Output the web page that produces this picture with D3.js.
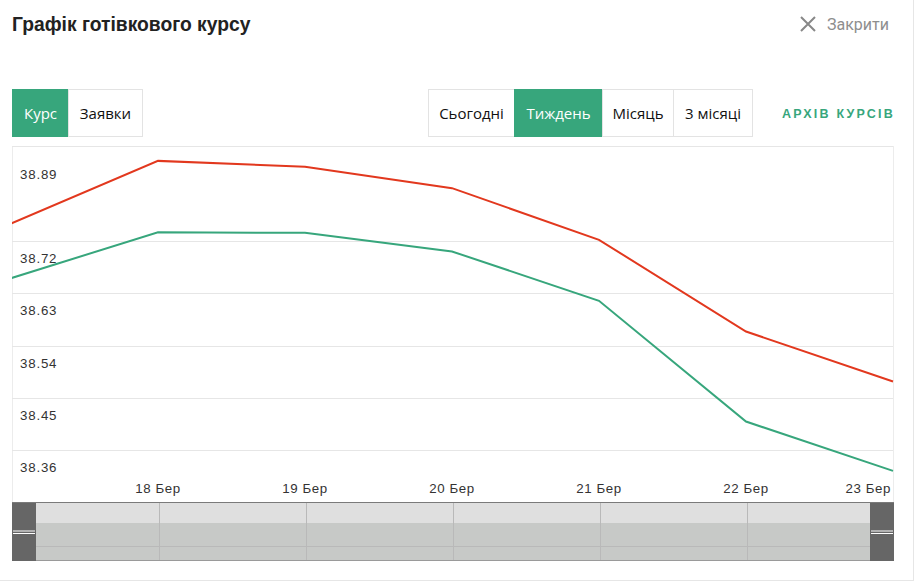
<!DOCTYPE html>
<html>
<head>
<meta charset="utf-8">
<script src="https://cdn.jsdelivr.net/npm/d3@7/dist/d3.min.js"></script>
<style>
  html, body { margin: 0; padding: 0; background: #fff; }
  svg { display: block; }
</style>
</head>
<body>
<svg id="chart" width="917" height="582"></svg>
<script>
// ---- data ----
const days = [17, 18, 19, 20, 21, 22, 23];
const monthLabel = "Бер";
const saleRate = [38.750, 38.858, 38.848, 38.811, 38.722, 38.564, 38.478];
const buyRate  = [38.656, 38.735, 38.734, 38.702, 38.617, 38.409, 38.324];
const yTickValues = [38.36, 38.45, 38.54, 38.63, 38.72, 38.884];
const yTickLabels = ["38.36", "38.45", "38.54", "38.63", "38.72", "38.89"];
const xTickDays = [18, 19, 20, 21, 22, 23];
const leftTabs = ["Курс", "Заявки"];
const periodTabs = ["Сьогодні", "Тиждень", "Місяць", "3 місяці"];

const GREEN = "#37a67c", RED = "#e2381e";
const svg = d3.select("#chart");

// modal frame
svg.append("line").attr("x1", 913.5).attr("x2", 913.5).attr("y1", 0).attr("y2", 580).attr("stroke", "#e6e6e6");
svg.append("line").attr("x1", 0).attr("x2", 914).attr("y1", 580.5).attr("y2", 580.5).attr("stroke", "#e6e6e6");

// title
svg.append("text").attr("x", 12).attr("y", 31)
  .attr("font-family", "Liberation Sans, Arial, sans-serif").attr("font-weight", "bold")
  .attr("font-size", 19.3).attr("fill", "#222").text("Графік готівкового курсу");

// close
const cx = 808, cy = 24;
svg.append("path").attr("d", `M${cx-7},${cy-7}L${cx+7},${cy+7}M${cx+7},${cy-7}L${cx-7},${cy+7}`)
  .attr("stroke", "#888").attr("stroke-width", 2);
svg.append("text").attr("x", 827).attr("y", 30)
  .attr("font-family", "Roboto, sans-serif").attr("font-size", 16).attr("fill", "#8e8e8e").text("Закрити");

// tabs
function drawTabs(labels, xs, activeIdx) {
  const g = svg.append("g");
  labels.forEach((l, i) => {
    const x0 = xs[i], x1 = xs[i + 1];
    g.append("rect").attr("x", x0 + 0.5).attr("y", 89.5).attr("width", x1 - x0).attr("height", 47)
      .attr("fill", i === activeIdx ? GREEN : "#fff").attr("stroke", i === activeIdx ? GREEN : "#e3e3e3");
    g.append("text").attr("x", (x0 + x1) / 2 + 0.5).attr("y", 119)
      .attr("text-anchor", "middle").attr("font-family", "Open Sans, sans-serif").attr("font-size", 15)
      .attr("fill", i === activeIdx ? "#fff" : "#111").text(l);
  });
}
drawTabs(leftTabs, [12, 68, 142], 0);
drawTabs(periodTabs, [428, 514, 602, 673, 752], 1);

svg.append("text").attr("x", 782).attr("y", 118)
  .attr("font-family", "Liberation Sans, Arial, sans-serif").attr("font-weight", "bold")
  .attr("font-size", 12.5).attr("letter-spacing", 2.2).attr("fill", GREEN).text("АРХІВ КУРСІВ");

// chart
const plotL = 12, plotR = 893, plotT = 146, plotB = 502;
const x = d3.scaleLinear().domain([17, 23]).range([11, 893]);
const y = d3.scaleLinear().domain([38.36, 38.72]).range([450, 241]);

svg.append("rect").attr("x", plotL + 0.5).attr("y", plotT + 0.5).attr("width", plotR - plotL).attr("height", plotB - plotT)
  .attr("fill", "#fff").attr("stroke", "#ececec");

// grid
const gridG = svg.append("g");
yTickValues.forEach((v, i) => {
  const yy = Math.round(y(v)) + 0.5;
  gridG.append("line").attr("x1", plotL).attr("x2", plotR).attr("y1", yy).attr("y2", yy)
    .attr("stroke", "#e6e6e6");
  gridG.append("text").attr("x", 20).attr("y", Math.max(y(v) + 22, plotT + 33))
    .attr("font-family", "Liberation Sans, Arial, sans-serif")
    .attr("font-size", 13.3).attr("letter-spacing", 0.8).attr("fill", "#333").text(yTickLabels[i]);
});

svg.append("defs").append("clipPath").attr("id", "clip")
  .append("rect").attr("x", plotL).attr("y", plotT).attr("width", plotR - plotL + 1).attr("height", plotB - plotT);

const line = d3.line().x((d, i) => x(days[i])).y(d => y(d));
const lg = svg.append("g").attr("clip-path", "url(#clip)");
lg.append("path").datum(buyRate).attr("d", line).attr("fill", "none").attr("stroke", GREEN).attr("stroke-width", 2);
lg.append("path").datum(saleRate).attr("d", line).attr("fill", "none").attr("stroke", RED).attr("stroke-width", 2);

// x labels
xTickDays.forEach(d => {
  const label = d + " " + monthLabel;
  const t = svg.append("text").attr("y", 493).attr("font-family", "Liberation Sans, Arial, sans-serif")
    .attr("font-size", 13.3).attr("letter-spacing", 0.6).attr("fill", "#333").text(label);
  const w = t.node().getComputedTextLength();
  let xx = x(d) - w / 2;
  if (xx + w > 891) xx = 891 - w;
  t.attr("x", xx);
});

// navigator
const nav = svg.append("g");
nav.append("rect").attr("x", plotL).attr("y", 503).attr("width", plotR - plotL + 1).attr("height", 20).attr("fill", "#dfdfdf");
nav.append("rect").attr("x", plotL).attr("y", 523).attr("width", plotR - plotL + 1).attr("height", 38).attr("fill", "#c7c9c7");
nav.append("line").attr("x1", plotL).attr("x2", plotR + 1).attr("y1", 546.5).attr("y2", 546.5).attr("stroke", "#b9b9b9");
days.slice(1, -1).forEach(d => {
  const xx = Math.round(x(d)) + 1.5;
  nav.append("line").attr("x1", xx).attr("x2", xx).attr("y1", 503).attr("y2", 561).attr("stroke", "#b9b9b9");
});
nav.append("line").attr("x1", plotL).attr("x2", plotR + 1).attr("y1", 502.5).attr("y2", 502.5).attr("stroke", "#7a7a7a");
nav.append("line").attr("x1", plotL).attr("x2", plotR + 1).attr("y1", 560.5).attr("y2", 560.5).attr("stroke", "#9a9a9a");
[[12, 36], [870, 894]].forEach(([a, b]) => {
  nav.append("rect").attr("x", a).attr("y", 503).attr("width", b - a).attr("height", 58).attr("fill", "#666");
  [531, 533.5].forEach(yy => nav.append("line").attr("x1", a + 1).attr("x2", b - 1).attr("y1", yy).attr("y2", yy)
    .attr("stroke", "#fff").attr("stroke-width", 1));
});
</script>
</body>
</html>
